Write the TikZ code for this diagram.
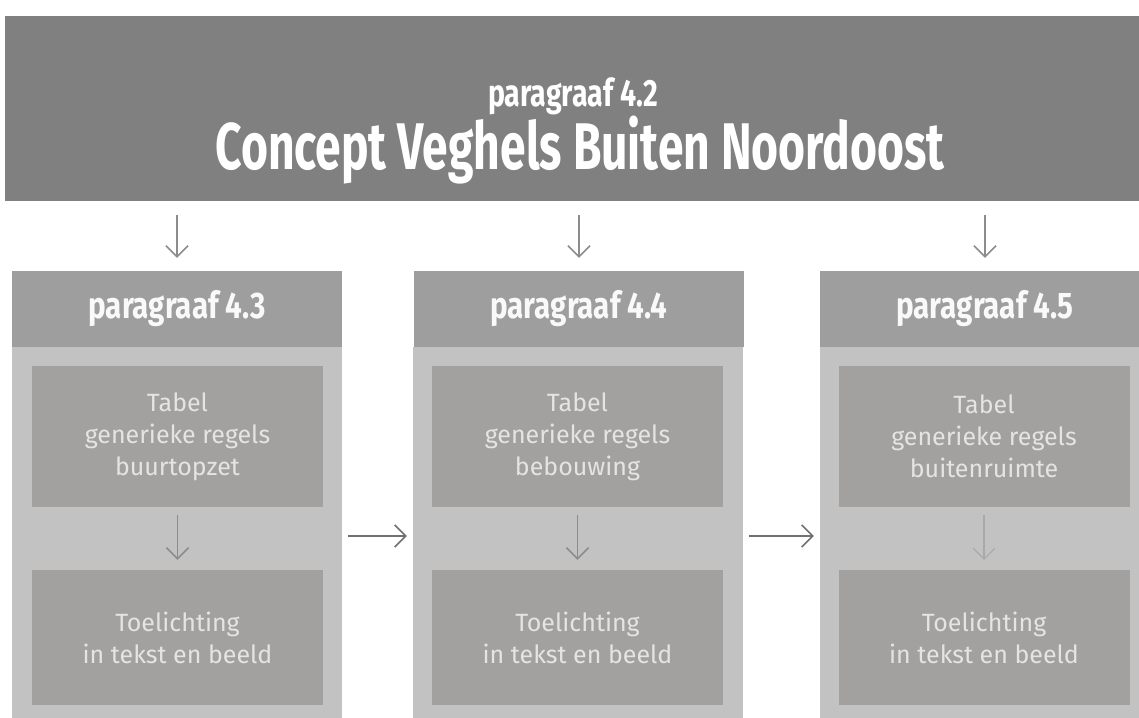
\documentclass[tikz,border=0pt]{standalone}
\usepackage{fontspec}
\setmainfont{Fira Sans}
\newfontfamily\titlefont[FakeStretch=0.7]{Fira Sans}
\newfontfamily\subfont[FakeStretch=0.75]{Fira Sans}
\newfontfamily\headfont[FakeStretch=0.8]{Fira Sans}
\usetikzlibrary{arrows.meta, positioning}
\definecolor{bannergray}{HTML}{808080}
\definecolor{headgray}{HTML}{9E9E9E}
\definecolor{panelgray}{HTML}{C2C2C2}
\definecolor{blockgray}{HTML}{A3A19F}
\definecolor{blocktext}{HTML}{E6E4E2}
\definecolor{arrowgray}{HTML}{8C8C8C}

\begin{document}
\begin{tikzpicture}[x=1pt, y=-1pt,
  banner/.style={rectangle, fill=bannergray, minimum width=1150pt, minimum height=185pt, inner sep=0pt},
  bantext/.style={text=white},
  header/.style={rectangle, fill=headgray, minimum width=330pt, minimum height=76pt, text=white!95!gray, font=\headfont\fontsize{37}{37}\selectfont\bfseries},
  panel/.style={rectangle, fill=panelgray, minimum width=330pt, minimum height=378pt},
  block/.style={rectangle, fill=blockgray, minimum width=291pt, align=center, text=blocktext, font=\fontsize{25}{32}\selectfont},
  arrow/.style={-{Straight Barb[length=11pt,width=22pt]}, line width=1.6pt, draw=arrowgray}
]
  \useasboundingbox (0,0) rectangle (1139,717);

  % Top banner
  \node[banner] (banner) at (580,108.5) {};
  \node[bantext, font=\subfont\fontsize{38}{38}\selectfont\bfseries] (sub) at (573,96) {paragraaf 4.2};
  \node[bantext, font=\titlefont\fontsize{66}{66}\selectfont\bfseries] (title) at (580,150) {Concept Veghels Buiten Noordoost};

  % Columns
  \node[panel] (pn1) at (177,536) {};
  \node[panel] (pn2) at (578,536) {};
  \node[panel] (pn3) at (985,536) {};

  \node[header] (hd1) at (177,309) {paragraaf 4.3};
  \node[header] (hd2) at (579,309) {paragraaf 4.4};
  \node[header] (hd3) at (985,309) {paragraaf 4.5};

  % Blocks
  \node[block, minimum height=141pt] (tab1) at (177.5,436.5) {Tabel\\generieke regels\\buurtopzet};
  \node[block, minimum height=141pt] (tab2) at (577.5,436.5) {Tabel\\generieke regels\\bebouwing};
  \node[block, minimum height=141pt] (tab3) at (984,436.5) {Tabel\\generieke regels\\buitenruimte};

  \node[block, minimum height=135pt] (toe1) at (177.5,637.5) {Toelichting\\in tekst en beeld};
  \node[block, minimum height=135pt] (toe2) at (577.5,637.5) {Toelichting\\in tekst en beeld};
  \node[block, minimum height=135pt] (toe3) at (984,637.5) {Toelichting\\in tekst en beeld};

  % Banner to columns
  \draw[arrow, shorten <=14pt, shorten >=13pt] (banner.south -| hd1.north) -- (hd1.north);
  \draw[arrow, shorten <=14pt, shorten >=13pt] (banner.south -| hd2.north) -- (hd2.north);
  \draw[arrow, shorten <=14pt, shorten >=13pt] (banner.south -| hd3.north) -- (hd3.north);

  % Within columns
  \draw[arrow, shorten <=8pt, shorten >=10pt] (tab1) -- (toe1);
  \draw[arrow, shorten <=8pt, shorten >=10pt] (tab2) -- (toe2);
  \draw[arrow, draw=arrowgray!75, line width=1.1pt, shorten <=8pt, shorten >=10pt] (tab3) -- (toe3);

  % Column to column
  \draw[arrow, draw=arrowgray!80!black, shorten <=6pt, shorten >=6pt] (pn1) -- (pn2);
  \draw[arrow, draw=arrowgray!80!black, shorten <=6pt, shorten >=6pt] (pn2) -- (pn3);
\end{tikzpicture}
\end{document}
